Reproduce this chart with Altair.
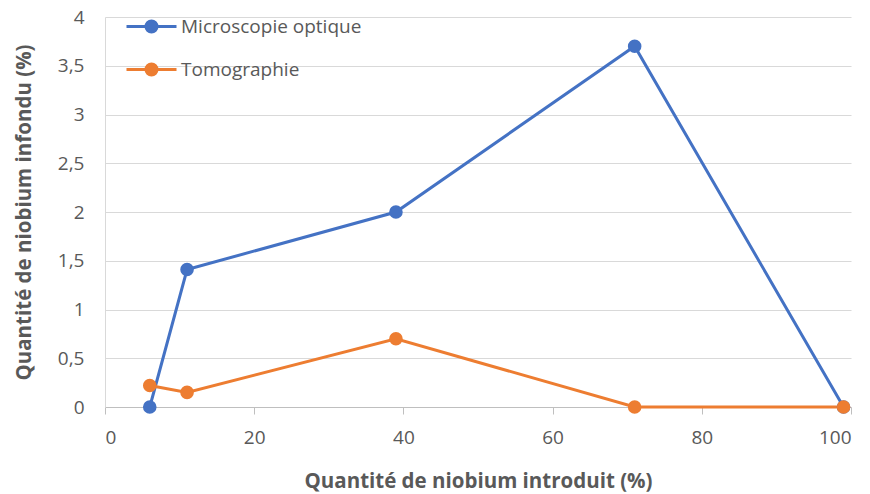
import altair as alt
import pandas as pd

x_values = [6, 11, 39, 71, 99]
microscopie = [0.0, 1.41, 2.0, 3.7, 0.0]
tomographie = [0.22, 0.15, 0.7, 0.0, 0.0]
series_names = ["Microscopie optique", "Tomographie"]
colors = ["#4472C4", "#ED7D31"]

rows = []
for name, vals in zip(series_names, [microscopie, tomographie]):
    for xv, yv in zip(x_values, vals):
        rows.append({"x": xv, "y": yv, "series": name})
df = pd.DataFrame(rows)

FONT = "Open Sans"

xenc = alt.X("x:Q", scale=alt.Scale(domain=[0, 100], nice=False),
             axis=alt.Axis(values=[0, 20, 40, 60, 80, 100], grid=False,
                           title="Quantité de niobium introduit (%)",
                           tickSize=7, tickColor="#bfbfbf", domainColor="#bfbfbf",
                           labelPadding=14, titlePadding=24))
yenc = alt.Y("y:Q", scale=alt.Scale(domain=[0, 4], nice=False),
             axis=alt.Axis(values=[0, 0.5, 1, 1.5, 2, 2.5, 3, 3.5, 4],
                           labelExpr="replace(toString(datum.value), '.', ',')",
                           title="Quantité de niobium infondu (%)",
                           ticks=False, domainColor="#d9d9d9", gridColor="#d9d9d9",
                           labelPadding=21, titlePadding=23))

scale = alt.Scale(domain=series_names, range=colors)

legend_path = ("M-2.5,0H2.5 "
               "M-0.55,0A0.55,0.55 0 1,0 0.55,0A0.55,0.55 0 1,0 -0.55,0 "
               "M-0.25,0A0.25,0.25 0 1,0 0.25,0A0.25,0.25 0 1,0 -0.25,0 "
               "M-0.05,0A0.05,0.05 0 1,0 0.05,0A0.05,0.05 0 1,0 -0.05,0")

legend = alt.Legend(title=None, orient="none", legendX=35, legendY=-2,
                    symbolType=legend_path, symbolSize=400,
                    symbolStrokeWidth=3, symbolOpacity=1,
                    labelOffset=18, rowPadding=20, padding=0, labelLimit=400,
                    labelFontSize=19, labelColor="#595959",
                    labelFont=FONT)

lines = alt.Chart(df).mark_line(strokeWidth=3).encode(
    x=xenc, y=yenc,
    color=alt.Color("series:N", scale=scale, sort=series_names, legend=legend),
)

points = alt.Chart(df).mark_circle(size=185, opacity=1).encode(
    x=xenc, y=yenc,
    color=alt.Color("series:N", scale=scale, sort=series_names, legend=legend),
)

chart = alt.layer(lines, points).properties(
    width=746, height=390,
    autosize=alt.AutoSizeParams(type="none"),
    padding={"left": 97, "top": 9, "right": 10, "bottom": 86},
).configure(font=FONT).configure_view(stroke=None).configure_axis(
    labelFontSize=19, labelColor="#595959", labelFont=FONT,
    titleFontSize=20.5, titleFontWeight="bold", titleColor="#595959", titleFont=FONT,
)

chart.save("out.html", embed_options={"renderer": "svg", "actions": False})
